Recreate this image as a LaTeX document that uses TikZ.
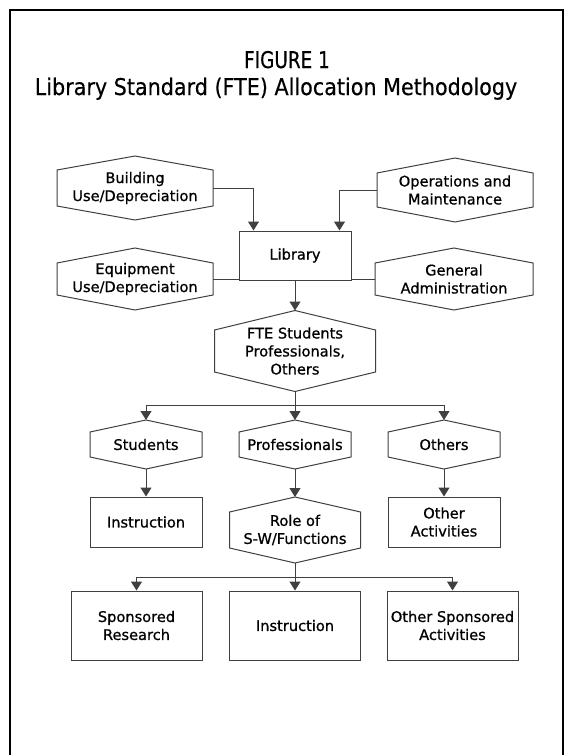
\documentclass[tikz,border=0pt]{standalone}
\usepackage{fontspec}
\setmainfont{DejaVu Sans}
\newfontfamily\nodefont{DejaVu Sans}[FakeBold=0.8]
\newfontfamily\titlefont{DejaVu Sans}[FakeBold=0.4]
\usetikzlibrary{arrows.meta}
\definecolor{lineclr}{HTML}{404040}
\newcommand\hexnode[7]{%
  \draw[hexline] (#2-#4,#3-#5) -- (#2,#3-#5-#6) -- (#2+#4,#3-#5) -- (#2+#4,#3+#5) -- (#2,#3+#5+#6) -- (#2-#4,#3+#5) -- cycle;
  \node[txt, minimum width=2*#4, minimum height=2*#5] (#1) at (#2,#3) {#7};
  \coordinate (#1-t) at (#2,#3-#5-#6);
  \coordinate (#1-b) at (#2,#3+#5+#6);
}
\begin{document}
\begin{tikzpicture}[x=1pt,y=-1pt,
  conn/.style={draw=lineclr, line width=1pt},
  arr/.style={conn, -{Triangle[width=11pt,length=9pt]}},
  txt/.style={inner sep=0pt, align=center, font=\nodefont\fontsize{14.6}{18}\selectfont},
  boxnode/.style={txt, draw=lineclr, line width=1pt},
  hexline/.style={draw=lineclr, line width=1pt, line join=miter},
  ttl/.style={inner sep=0pt, anchor=base}]
\clip (0,0) rectangle (565,755);
\fill[white] (0,0) rectangle (565,755);
% frame
\draw[line width=2pt, black] (10,760) -- (10,10) -- (563,10) -- (563,760);
% title
\node[ttl, font=\titlefont\fontsize{23}{26}\selectfont] (fig) at (287,68) {\scalebox{0.8}[1]{FIGURE 1}};
\node[ttl, font=\titlefont\fontsize{23}{28}\selectfont] (title) at (276,95) {\scalebox{0.9}[1]{Library Standard (FTE) Allocation Methodology}};
% nodes
\hexnode{bldg}{135}{188}{78}{18}{14}{Building\\Use/Depreciation}
\hexnode{ops}{455}{190}{78}{17}{15}{Operations and\\Maintenance}
\hexnode{equip}{135}{279}{78}{16}{15}{Equipment\\Use/Depreciation}
\hexnode{gen}{454}{279}{79}{16}{15}{General\\Administration}
\node[boxnode, minimum width=112, minimum height=49] (lib) at (295,255.5) {Library};
\hexnode{fte}{295}{351}{80.5}{21}{19.5}{FTE Students\\Professionals,\\Others}
\hexnode{stu}{146}{444.5}{56}{12.5}{12}{Students}
\hexnode{prof}{295}{444.5}{56}{12.5}{12}{Professionals}
\hexnode{oth}{444}{444.5}{56}{12.5}{12}{Others}
\node[boxnode, minimum width=112, minimum height=50] (instr) at (146,522) {Instruction};
\hexnode{role}{295}{530}{65.5}{18}{15}{Role of\\S-W/Functions}
\node[boxnode, minimum width=112, minimum height=50] (otha) at (444,522) {Other\\Activities};
\node[boxnode, minimum width=131, minimum height=69] (spr) at (136.5,625.5) {Sponsored\\Research};
\node[boxnode, minimum width=131, minimum height=69] (instr2) at (295,625.5) {Instruction};
\node[boxnode, minimum width=131, minimum height=69] (osa) at (452.5,625.5) {Other Sponsored\\Activities};
% connectors
\draw[arr] (bldg.east) -| ([xshift=15pt]lib.north west);
\draw[arr] (ops.west) -| ([xshift=-12pt]lib.north east);
\draw[conn] (equip.east) -- (equip.east -| lib.west);
\draw[conn] (gen.west) -- (gen.west -| lib.east);
\draw[arr] (lib.south) -- (fte-t);
\path (fte-b) ++(0,14) coordinate (j1);
\draw[conn] (fte-b) -- (j1);
\draw[arr] (j1) -| (stu-t);
\draw[arr] (j1) -- (prof-t);
\draw[arr] (j1) -| (oth-t);
\draw[arr] (stu-b) -- (instr.north);
\draw[arr] (prof-b) -- (role-t);
\draw[arr] (oth-b) -- (otha.north);
\path (role-b) ++(0,14) coordinate (j2);
\draw[conn] (role-b) -- (j2);
\draw[arr] (j2) -| (spr.north);
\draw[arr] (j2) -- (instr2.north);
\draw[arr] (j2) -| (osa.north);
\end{tikzpicture}
\end{document}
